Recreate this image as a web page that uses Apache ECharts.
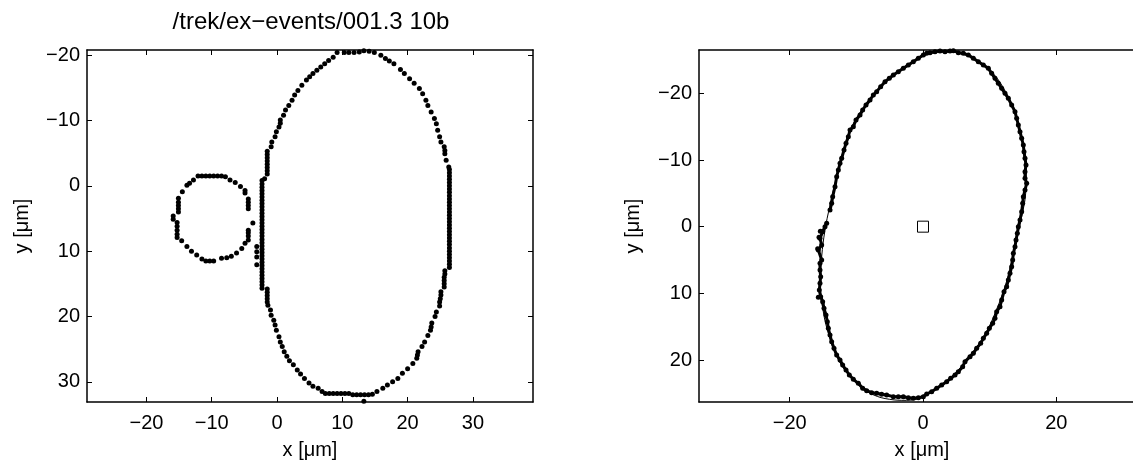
<!DOCTYPE html>
<html>
<head>
<meta charset="utf-8">
<script src="https://cdn.jsdelivr.net/npm/echarts@6/dist/echarts.min.js"></script>
<style>
  html, body { margin: 0; padding: 0; background: #fff; }
  #chart { width: 1133px; height: 464px; }
</style>
</head>
<body>
<div id="chart"></div>
<script>
// ---- data (units: µm, y grows downwards) ----
const titleText = "/trek/ex\u2212events/001.3 10b";

// left panel: axis limits and tick labels
const leftXRange = [-29.1, 39.2];
const leftYRange = [-20.8, 33.1];
const leftXTicks = [-20, -10, 0, 10, 20, 30];
const leftYTicks = [-20, -10, 0, 10, 20, 30];

// right panel
const rightXRange = [-33.6, 33.3];
const rightYRange = [-26.5, 26.3];
const rightXTicks = [-20, 0, 20];
const rightYTicks = [-20, -10, 0, 10, 20];

// big cell outline, left panel
const cellTop = [
  [8.6,-19.7],[9.2,-20.4],[10.3,-20.4],[11.0,-20.4],[11.8,-20.4],[12.6,-20.5],[13.3,-20.7],[14.1,-20.6],
  [14.9,-20.4],[15.9,-20.0],[16.6,-19.5],[17.2,-19.1],[17.9,-18.7],[18.9,-17.8],[19.5,-17.2],[20.3,-16.4],
  [21.0,-15.7],[21.8,-14.9],[22.3,-14.1],[22.8,-13.1],[23.1,-12.3],[23.6,-11.3],[24.1,-10.3],[24.4,-9.5],
  [24.6,-8.5],[24.9,-7.5],[25.1,-6.7],[25.6,-6.0],[25.7,-5.4],[25.7,-4.9],[25.9,-3.9],[26.3,-2.9]
];
const cellRightEdgeX = 26.4;
const cellRightEdgeY = [-2.5,-2.0,-1.5,-1.0,-0.5,0.0,0.5,1.0,1.5,2.0,2.5,3.0,3.5,4.0,4.5,5.0,5.5,6.0,
  6.5,7.0,7.5,8.0,8.5,9.0,9.5,10.0,10.5,11.0,11.5,12.0,12.5];
const cellBottom = [
  [25.7,13.0],[25.7,13.5],[25.6,14.0],[25.6,14.5],[25.6,15.0],[25.6,15.5],[25.1,16.2],[25.1,16.7],
  [25.0,17.3],[24.9,17.8],[24.9,18.4],[24.4,19.3],[24.2,20.0],[23.7,21.0],[23.6,21.6],[23.5,22.1],
  [23.1,22.9],[22.6,23.9],[22.2,24.6],[21.6,25.4],[21.5,25.9],[21.4,26.4],[20.8,27.2],[20.0,28.0],
  [19.2,28.7],[18.5,29.5],[17.7,30.0],[16.9,30.5],[16.2,31.0],[15.3,31.5],[14.6,31.9],
  [14.0,32.0],[13.4,32.0],[12.8,32.0],[12.2,32.0],[11.6,32.0],[11.0,31.8],[10.4,31.8],[9.8,31.8],
  [9.2,31.8],[8.6,31.8],[8.0,31.8],[7.4,31.8],[13.3,33.0],
  [6.9,31.5],[6.3,31.0],[5.5,30.7],[4.9,30.2],[4.2,29.5],[3.6,28.8],[3.1,28.2],[2.5,27.4],
  [1.9,26.8],[1.5,26.1],[1.1,25.4],[0.8,24.6],[0.5,23.9],[0.3,23.1],[-0.1,22.1],[-0.3,21.3],
  [-0.5,20.6],[-0.9,19.8],[-1.0,19.0],[-1.4,18.3],
  [-1.5,17.8],[-1.5,17.3],[-1.5,16.8],[-1.5,16.3],[-1.5,15.8]
];
const cellLeftEdgeX = -2.3;
const cellLeftEdgeY = [15.7,15.2,14.7,14.2,13.7,13.2,12.7,12.2,11.7,11.2,10.7,10.2,9.7,9.2,8.7,8.2,
  7.7,7.2,6.7,6.2,5.7,5.2,4.7,4.2,3.7,3.2,2.7,2.2,1.7,1.2,0.7,0.2,-0.3,-0.8];
const cellUpperLeft = [
  [-1.9,-1.1],[-1.5,-1.8],[-1.5,-2.3],[-1.5,-2.8],[-1.5,-3.3],[-1.5,-3.8],[-1.5,-4.3],[-1.5,-4.8],
  [-1.5,-5.3],[-0.9,-6.0],[-0.8,-6.7],[-0.3,-7.5],[-0.1,-8.3],[0.3,-9.0],[0.5,-9.6],[0.5,-10.1],
  [1.0,-10.8],[1.3,-11.6],[1.8,-12.3],[2.3,-13.1],[2.7,-13.9],[3.2,-14.6],[3.8,-15.4],[4.5,-16.2],
  [5.0,-16.7],[5.5,-17.2],[6.1,-17.7],[6.7,-18.2],[7.3,-18.7],[7.9,-19.2]
];
const strayDots = [[-3.1,9.3],[-3.1,10.1],[-3.1,10.9],[-3.1,12.1]];

// small round cell, left panel
const smallCell = [
  [-12.1,-1.5],[-11.5,-1.5],[-10.9,-1.5],[-10.3,-1.5],[-9.7,-1.5],[-9.1,-1.5],[-8.5,-1.5],
  [-12.8,-0.9],[-13.4,-0.4],[-13.8,-0.1],[-14.5,0.9],[-15.1,1.9],[-15.1,2.5],[-15.1,3.0],[-15.1,3.5],
  [-15.1,4.0],[-15.9,4.6],[-15.9,5.1],[-15.3,5.6],[-15.3,6.2],[-15.3,6.8],[-15.3,7.4],[-15.3,7.9],
  [-14.6,8.4],[-13.8,9.3],[-13.1,10.0],[-12.3,10.6],[-11.5,11.2],[-10.9,11.5],[-10.3,11.5],[-9.7,11.5],
  [-8.5,11.1],[-7.7,11.0],[-7.0,10.8],[-6.2,10.3],[-5.4,9.6],[-4.9,8.8],[-4.4,8.3],[-4.4,7.7],
  [-4.4,7.2],[-4.4,6.8],[-3.7,5.7],[-4.4,3.5],[-4.4,3.0],[-4.4,2.5],[-4.4,2.0],[-4.9,1.1],
  [-4.9,0.7],[-5.6,0.1],[-6.4,-0.5],[-7.2,-0.9],[-7.9,-1.4]
];

// right panel: edge points (a break where the dots stop on the left)
const edgeMain = [
  [-14.45,-0.5],[-14.7,0],[-15.05,0.75],[-15.45,1.75],[-15.2,2.75],[-15.7,3.5],[-15.2,5.0],[-15.45,5.5],
  [-15.45,6.5],[-15.35,7.5],[-15.45,8.5],[-15.55,9.5],[-15.35,10.5],[-15.05,11.25],[-14.85,12.25],
  [-14.55,13.25],[-14.35,14.25],[-14.2,15.25],[-13.95,16.25],[-13.7,17.25],[-13.35,18.25],[-12.95,19.25],
  [-12.45,20.0],[-12.05,20.75],[-11.55,21.5],[-11.05,22.25],[-10.45,22.9],[-9.7,23.5],[-9.05,24.25],
  [-8.45,24.6],[-7.7,24.9],[-6.95,25.0],[-6.2,25.15],[-5.45,25.25],[-4.45,25.5],[-3.7,25.5],[-2.95,25.5],
  [-2.2,25.65],[-1.45,25.75],[-0.7,25.65],[0.05,25.5],[0.55,25.1],[1.3,24.75],[2.05,24.25],[2.8,23.75],
  [3.55,23.25],[4.15,22.75],[4.8,22.25],[5.3,21.75],[5.95,21.0],[6.3,20.25],[7.05,19.5],[7.55,19.0],
  [8.05,18.25],[8.65,17.5],[9.05,16.75],[9.55,16.0],[9.95,15.25],[10.45,14.5],[10.8,13.75],[11.05,12.75],
  [11.55,12.0],[11.8,11.0],[12.15,9.75],[12.55,9.0],[12.8,8.0],[13.05,7.0],[13.3,6.0],[13.45,5.0],
  [13.55,4.0],[13.8,3.0],[13.95,2.0],[14.15,1.0],[14.3,0],[14.55,-1.0],[14.8,-2.25],[14.95,-3.5],
  [15.05,-4.5],[15.3,-5.5],[15.55,-6.5],[15.3,-7.25],[15.3,-8.25],[15.45,-9.25],[15.3,-10.25],
  [15.15,-11.25],[15.05,-12.25],[14.8,-13.25],[14.55,-14.25],[14.3,-15.25],[14.05,-16.25],[13.8,-17.25],
  [13.3,-18.25],[12.8,-19.25],[12.3,-20.0],[11.8,-20.75],[11.3,-21.5],[10.8,-22.25],[10.3,-23.0],
  [9.8,-23.75],[9.05,-24.25],[8.3,-24.75],[7.55,-25.25],[6.8,-25.75],[6.05,-26.0],[5.3,-26.1],
  [4.55,-26.4],[4.05,-26.35],[3.3,-26.25],[2.55,-26.35],[1.8,-26.25],[1.05,-26.1],[0.55,-26.0],
  [0.05,-25.75],[-0.7,-25.25],[-1.45,-24.75],[-2.2,-24.25],[-2.95,-23.75],[-3.7,-23.25],[-4.45,-22.75],
  [-5.05,-22.25],[-5.7,-21.75],[-6.35,-21.0],[-6.95,-20.25],[-7.45,-19.75],[-7.95,-19.0],[-8.55,-18.25],
  [-9.05,-17.5],[-9.45,-16.75],[-10.05,-16.0],[-10.45,-15.0],[-10.95,-14.5],[-11.2,-13.5],[-11.55,-12.5],
  [-11.85,-11.5],[-12.2,-10.25],[-12.45,-9.5],[-12.7,-8.5],[-12.95,-7.5],[-13.2,-6.0],[-13.55,-4.5],
  [-13.7,-3.5],[-13.95,-2.5]
];
const edgeStubs = [[-15.8,3.3],[-15.6,1.6],[-15.7,10.6],[-15.4,0.7]];

// fitted outline, right panel
const fitCurve = [
  [0.6,-25.9],[3,-26.3],[5.5,-26.0],[8,-25.0],[10.5,-23.0],[12.5,-20.0],[14,-16.5],[15,-12.5],
  [15.5,-8.5],[15.4,-5],[14.8,-1.5],[14,2],[13.2,5.5],[12.3,9],[11,12.5],[9.5,15.8],[7.5,18.8],
  [5.2,21.6],[2.8,23.8],[0,25.5],[-2.5,26.05],[-5,25.9],[-7.5,25.2],[-9.5,23.9],[-11.5,21.8],
  [-13,19.3],[-14.2,16],[-15,12.5],[-15.4,8.5],[-15.2,4.5],[-14.7,0.5],[-14.0,-3],[-13.2,-6.5],
  [-12.2,-10.5],[-10.9,-14.5],[-9.1,-17.6],[-6.8,-20.4],[-4.2,-22.9],[-1.8,-24.6],[0.6,-25.9]
];
const centreMark = [[0, 0]];

// ---- build ----
const FONT = "'Liberation Sans', Arial, Helvetica, sans-serif";
const fmt = v => (v < 0 ? "\u2212" + Math.abs(v) : String(v));

function pairs(x, ys) { return ys.map(y => [x, y]); }

const leftCellPts = [].concat(cellTop, pairs(cellRightEdgeX, cellRightEdgeY), cellBottom,
  pairs(cellLeftEdgeX, cellLeftEdgeY), cellUpperLeft, strayDots);

const line = { show: true, onZero: false, lineStyle: { color: "#000", width: 1.5 } };

function axisPair(gridIndex, range, ticks, isY) {
  const base = {
    type: "value", gridIndex: gridIndex, min: range[0], max: range[1],
    splitLine: { show: false },
    axisLine: line,
    axisTick: { show: true, inside: true, length: 5, customValues: ticks,
      lineStyle: { color: "#000", width: 1 } }
  };
  const main = Object.assign({}, base, {
    position: isY ? "left" : "bottom",
    axisLabel: { show: true, customValues: ticks, formatter: fmt, color: "#000",
      fontFamily: FONT, fontSize: 20, margin: isY ? 7 : 11 }
  });
  const other = Object.assign({}, base, {
    position: isY ? "right" : "top",
    axisLabel: { show: false }
  });
  if (isY) { main.inverse = true; other.inverse = true; }
  return [main, other];
}

const dot = { color: "#000", opacity: 1 };

const option = {
  animation: false,
  backgroundColor: "#fff",
  grid: [
    { left: 87, top: 50, width: 446, height: 352, outerBoundsMode: "none" },
    // the right box runs past the picture edge, as in the source figure
    { left: 699, top: 50, width: 446, height: 352, outerBoundsMode: "none" }
  ],
  // xAxis / yAxis arrays are [left-main, left-other, right-main, right-other]
  xAxis: [].concat(axisPair(0, leftXRange, leftXTicks, false), axisPair(1, rightXRange, rightXTicks, false)),
  yAxis: [].concat(axisPair(0, leftYRange, leftYTicks, true), axisPair(1, rightYRange, rightYTicks, true)),
  graphic: [
    { type: "text", x: 311, y: 22, style: { text: titleText, font: "24px " + FONT, fill: "#000",
      align: "center", verticalAlign: "middle" } },
    { type: "text", x: 310, y: 450, style: { text: "x [\u03bcm]", font: "20px " + FONT, fill: "#000",
      align: "center", verticalAlign: "middle" } },
    { type: "text", x: 922, y: 450, style: { text: "x [\u03bcm]", font: "20px " + FONT, fill: "#000",
      align: "center", verticalAlign: "middle" } },
    { type: "text", x: 22, y: 226, rotation: Math.PI / 2, style: { text: "y [\u03bcm]", font: "20px " + FONT,
      fill: "#000", align: "center", verticalAlign: "middle" } },
    { type: "text", x: 633, y: 226, rotation: Math.PI / 2, style: { text: "y [\u03bcm]", font: "20px " + FONT,
      fill: "#000", align: "center", verticalAlign: "middle" } }
  ],
  series: [
    { type: "scatter", xAxisIndex: 0, yAxisIndex: 0, data: leftCellPts, symbolSize: 5, itemStyle: dot },
    { type: "scatter", xAxisIndex: 0, yAxisIndex: 0, data: smallCell, symbolSize: 5, itemStyle: dot },
    { type: "line", xAxisIndex: 2, yAxisIndex: 2, data: fitCurve, smooth: 0.4, symbol: "none",
      lineStyle: { color: "#000", width: 1 } },
    { type: "line", xAxisIndex: 2, yAxisIndex: 2, data: edgeMain, symbol: "circle", symbolSize: 5,
      showSymbol: true, itemStyle: dot, lineStyle: { color: "#000", width: 3 } },
    { type: "scatter", xAxisIndex: 2, yAxisIndex: 2, data: edgeStubs, symbolSize: 5, itemStyle: dot },
    { type: "scatter", xAxisIndex: 2, yAxisIndex: 2, data: centreMark, symbol: "rect", symbolSize: 11,
      itemStyle: { color: "#fff", borderColor: "#000", borderWidth: 1, opacity: 1 } }
  ]
};

const chart = echarts.init(document.getElementById("chart"));
chart.setOption(option);
</script>
</body>
</html>
